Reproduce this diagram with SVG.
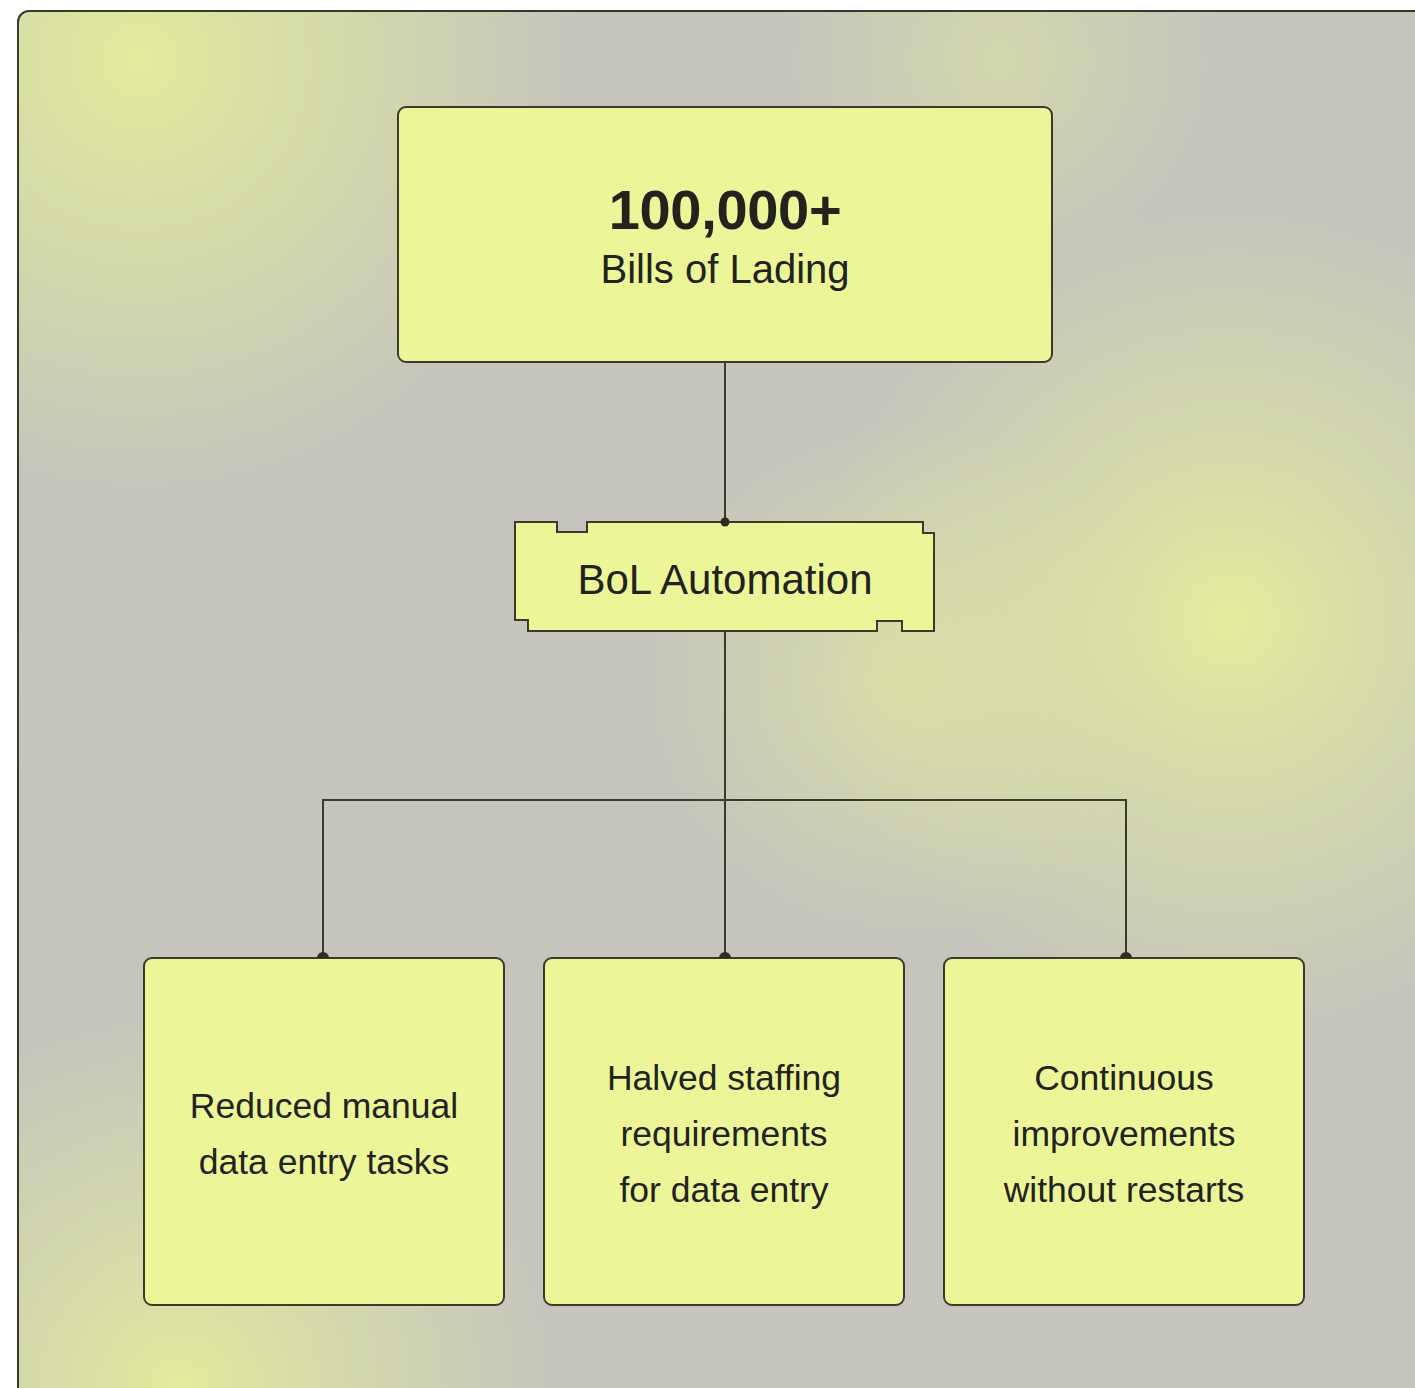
<svg xmlns="http://www.w3.org/2000/svg" width="1415" height="1388" viewBox="0 0 1415 1388">
<defs>
  <radialGradient id="gTL" cx="140" cy="60" r="440" gradientUnits="userSpaceOnUse">
    <stop offset="0" stop-color="#e2eb9c" stop-opacity="1"/>
    <stop offset="0.5" stop-color="#dce49f" stop-opacity="0.6"/>
    <stop offset="1" stop-color="#dce49f" stop-opacity="0"/>
  </radialGradient>
  <radialGradient id="gR" cx="1230" cy="620" r="420" gradientUnits="userSpaceOnUse">
    <stop offset="0" stop-color="#e4ec9c" stop-opacity="1"/>
    <stop offset="0.5" stop-color="#dde4a0" stop-opacity="0.55"/>
    <stop offset="1" stop-color="#dde4a0" stop-opacity="0"/>
  </radialGradient>
  <radialGradient id="gBL" cx="180" cy="1388" r="380" gradientUnits="userSpaceOnUse">
    <stop offset="0" stop-color="#e2eb9c" stop-opacity="1"/>
    <stop offset="0.5" stop-color="#dde4a0" stop-opacity="0.55"/>
    <stop offset="1" stop-color="#dde4a0" stop-opacity="0"/>
  </radialGradient>
  <radialGradient id="gC" cx="900" cy="680" r="260" gradientUnits="userSpaceOnUse">
    <stop offset="0" stop-color="#dfe69f" stop-opacity="0.7"/>
    <stop offset="1" stop-color="#dfe69f" stop-opacity="0"/>
  </radialGradient>
  <radialGradient id="gT" cx="1000" cy="60" r="220" gradientUnits="userSpaceOnUse">
    <stop offset="0" stop-color="#dce3a0" stop-opacity="0.6"/>
    <stop offset="1" stop-color="#dce3a0" stop-opacity="0"/>
  </radialGradient>
  <clipPath id="panel">
    <rect x="18" y="11" width="1420" height="1400" rx="11"/>
  </clipPath>
</defs>
<style>
  .box { fill: #ecf598; stroke: #3b3b2c; stroke-width: 2; }
  .line { fill: none; stroke: #3b3b2c; stroke-width: 2; }
  .dot { fill: #2c2c22; }
  .t { font-family: "Liberation Sans", Arial, Helvetica, sans-serif; fill: #22231c; text-anchor: middle; }
  .big { font-size: 56px; font-weight: bold; letter-spacing: -0.3px; }
  .sub { font-size: 40px; }
  .mid { font-size: 42px; }
  .sm { font-size: 35.5px; }
</style>
<rect x="0" y="0" width="1415" height="1388" fill="#ffffff"/>
<g id="background" clip-path="url(#panel)">
  <rect x="18" y="11" width="1420" height="1400" fill="#c5c5bd"/>
  <rect x="18" y="11" width="1420" height="1400" fill="url(#gTL)"/>
  <rect x="18" y="11" width="1420" height="1400" fill="url(#gR)"/>
  <rect x="18" y="11" width="1420" height="1400" fill="url(#gBL)"/>
  <rect x="18" y="11" width="1420" height="1400" fill="url(#gC)"/>
  <rect x="18" y="11" width="1420" height="1400" fill="url(#gT)"/>
</g>
<rect x="18" y="11" width="1420" height="1400" rx="11" fill="none" stroke="#3a3a2a" stroke-width="2"/>

<g id="node-bills">
  <rect class="box" x="398" y="107" width="654" height="255" rx="8"/>
  <text class="t big" x="725" y="229">100,000+</text>
  <text class="t sub" x="725" y="283">Bills of Lading</text>
</g>

<g id="node-bol">
  <path class="box" d="M515,522 H557 V532 H587 V522 H923 V533 H934 V631 H902 V621 H877 V631 H528 V620 H515 Z"/>
  <text class="t mid" x="725" y="594">BoL Automation</text>
</g>

<g id="node-reduced">
  <rect class="box" x="144" y="958" width="360" height="347" rx="8"/>
  <text class="t sm" x="324" y="1118">Reduced manual</text>
  <text class="t sm" x="324" y="1174">data entry tasks</text>
</g>

<g id="node-halved">
  <rect class="box" x="544" y="958" width="360" height="347" rx="8"/>
  <text class="t sm" x="724" y="1090">Halved staffing</text>
  <text class="t sm" x="724" y="1146">requirements</text>
  <text class="t sm" x="724" y="1202">for data entry</text>
</g>

<g id="node-continuous">
  <rect class="box" x="944" y="958" width="360" height="347" rx="8"/>
  <text class="t sm" x="1124" y="1090">Continuous</text>
  <text class="t sm" x="1124" y="1146">improvements</text>
  <text class="t sm" x="1124" y="1202">without restarts</text>
</g>

<g id="connectors">
  <path class="line" d="M725,363 V522"/>
  <path class="line" d="M725,632 V957"/>
  <path class="line" d="M323,957 V800 H1126 V957"/>
  <circle class="dot" cx="725" cy="522" r="4.5"/>
  <path class="dot" d="M719,958 a6,6 0 0 1 12,0 Z"/>
  <path class="dot" d="M317,958 a6,6 0 0 1 12,0 Z"/>
  <path class="dot" d="M1120,958 a6,6 0 0 1 12,0 Z"/>
</g>
</svg>
